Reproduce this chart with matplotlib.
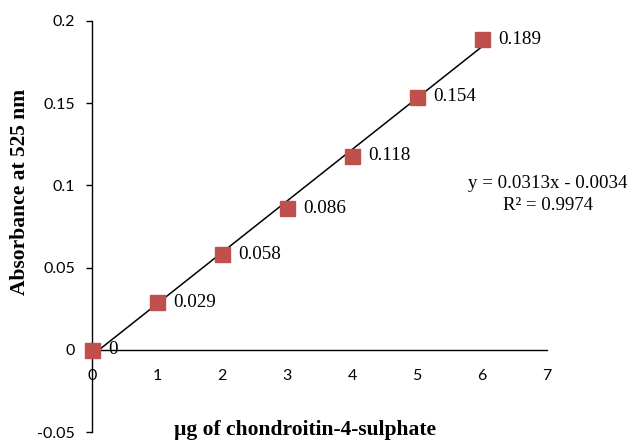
import matplotlib
matplotlib.use("Agg")
import matplotlib.pyplot as plt
import numpy as np

x_vals = [0, 1, 2, 3, 4, 5, 6]
y_vals = [0, 0.029, 0.058, 0.086, 0.118, 0.154, 0.189]
labels = ["0", "0.029", "0.058", "0.086", "0.118", "0.154", "0.189"]
slope = 0.0313
intercept = -0.0034
eq_text = "y = 0.0313x - 0.0034"
r2_text = "R² = 0.9974"
xlabel = "µg of chondroitin-4-sulphate"
ylabel = "Absorbance at 525 nm"
xticks = [0, 1, 2, 3, 4, 5, 6, 7]
yticks = [-0.05, 0, 0.05, 0.1, 0.15, 0.2]
ytick_labels = ["-0.05", "0", "0.05", "0.1", "0.15", "0.2"]

W, H = 629, 441
fig = plt.figure(figsize=(W/100, H/100), dpi=100)
ax = fig.add_axes([92/W, 1-432/H, (547-92)/W, (432-21)/H])
ax.set_xlim(0, 7)
ax.set_ylim(-0.05, 0.2)

tick_font = "Lato"
serif = "Liberation Serif"

# trendline
xt = np.array([x_vals[0], x_vals[-1]])
ax.plot(xt, slope*xt + intercept, color="black", lw=1.1, zorder=2)
ax.plot(x_vals, y_vals, linestyle="none", marker="s", markersize=10.8,
        color="#C0504D", zorder=3, clip_on=False)
for xv, yv, lb in zip(x_vals, y_vals, labels):
    ax.annotate(lb, (xv, yv), xytext=(11.5, 0), textcoords="offset points",
                ha="left", va="center", fontsize=13.8, family=serif, zorder=4)

fig.text(548/W, 1-183/H, eq_text, ha="center", va="center", fontsize=13.6,
         family=serif)
fig.text(548/W, 1-205/H, r2_text, ha="center", va="center", fontsize=13.6,
         family=serif)

for s in ["top", "right"]:
    ax.spines[s].set_visible(False)
ax.spines["bottom"].set_position(("data", 0))
ax.spines["left"].set_position(("data", 0))
ax.spines["bottom"].set_linewidth(1.0)
ax.spines["left"].set_linewidth(1.0)

ax.set_xticks(xticks)
ax.set_xticklabels([str(t) for t in xticks], fontsize=11.5, family=tick_font)
ax.tick_params(axis="x", length=0, pad=14)
ax.set_yticks(yticks)
ax.set_yticklabels(ytick_labels, fontsize=11.5, family=tick_font)
ax.tick_params(axis="y", direction="out", length=4.3, width=1.0, pad=8)

fig.text(20/W, 1-192/H, ylabel, rotation=90, ha="center", va="center",
         fontsize=15.5, fontweight="bold", family=serif)
fig.text(304.5/W, 1.5/H, xlabel, ha="center", va="bottom",
         fontsize=15.5, fontweight="bold", family=serif)

fig.savefig("out.png", dpi=100)
